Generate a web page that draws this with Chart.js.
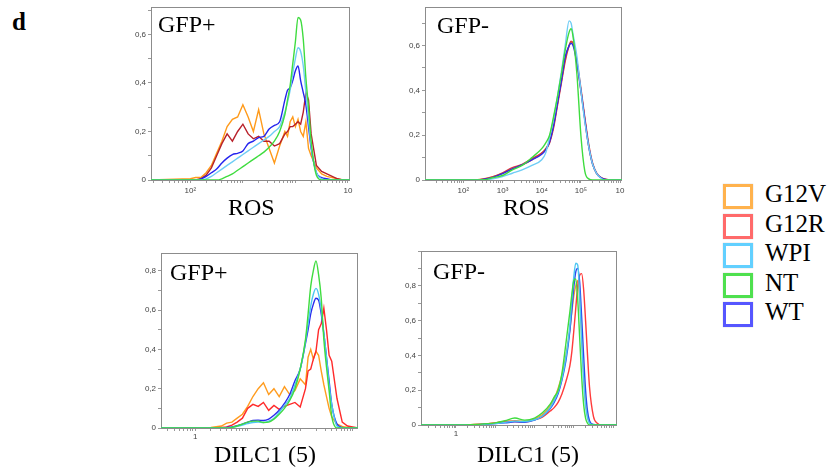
<!DOCTYPE html>
<html>
<head>
<meta charset="utf-8">
<script src="https://cdn.jsdelivr.net/npm/chart.js@4.4.1/dist/chart.umd.min.js"></script>
<style>
  body { margin: 0; width: 832px; height: 468px; background: #fff; position: relative; overflow: hidden;
         font-family: "Liberation Serif", "Times New Roman", serif; }
  canvas { position: absolute; }
  .lbl { position: absolute; font-size: 24px; line-height: 1; color: #000; white-space: nowrap; }
  .key { position: absolute; width: 24px; height: 19px; border: 3px solid; background: #fff;
         box-shadow: 0 0 1px rgba(0,0,0,0.25); }
  .keytext { position: absolute; font-size: 25px; line-height: 1; color: #000; }
</style>
</head>
<body>
<div class="lbl" style="left:12px;top:9px;font-size:25px;font-weight:bold">d</div>

<canvas id="rosPos" width="260" height="200" style="left:100px;top:0px"></canvas>
<canvas id="rosNeg" width="262" height="200" style="left:370px;top:0px"></canvas>
<canvas id="dilPos" width="270" height="205" style="left:100px;top:240px"></canvas>
<canvas id="dilNeg" width="260" height="205" style="left:370px;top:240px"></canvas>

<div class="lbl" style="left:158px;top:12px">GFP+</div>
<div class="lbl" style="left:437px;top:13px">GFP-</div>
<div class="lbl" style="left:170px;top:260px">GFP+</div>
<div class="lbl" style="left:433px;top:259px">GFP-</div>
<div class="lbl" style="left:228px;top:195px">ROS</div>
<div class="lbl" style="left:503px;top:195px">ROS</div>
<div class="lbl" style="left:214px;top:442px">DILC1 (5)</div>
<div class="lbl" style="left:477px;top:442px">DILC1 (5)</div>

<div id="legend"></div>

<script>
// series names and colours
const names = ["G12V", "G12R", "WPI", "NT", "WT"];
const keyColors = ["#ffb24d", "#ff6a6a", "#62d0ff", "#4fe04f", "#5656ff"];

// ROS, GFP+ (x in log10 units)
const rosPosX = [1.25, 2.0, 2.1, 2.2, 2.3, 2.4, 2.5, 2.6, 2.7, 2.8, 2.9, 3.0, 3.1, 3.2, 3.3, 3.4, 3.5, 3.6, 3.7, 3.8,
  3.85, 3.9, 3.95, 4.0, 4.05, 4.1, 4.15, 4.2, 4.25, 4.3, 4.4, 4.5, 4.6, 4.7, 4.8, 4.9, 5.04];
const rosPosG12V = [0, 0.005, 0.01, 0.01, 0.03, 0.06, 0.11, 0.16, 0.22, 0.25, 0.26, 0.31, 0.26, 0.2, 0.29, 0.19, 0.13, 0.07, 0.14, 0.2,
  0.18, 0.24, 0.26, 0.22, 0.25, 0.2, 0.18, 0.24, 0.13, 0.1, 0.05, 0.025, 0.015, 0.01, 0.005, 0, 0];
const rosPosG12R = [0, 0, 0, 0.005, 0.02, 0.05, 0.1, 0.15, 0.19, 0.16, 0.2, 0.23, 0.19, 0.17, 0.18, 0.16, 0.16, 0.14, 0.15, 0.19,
  0.2, 0.22, 0.22, 0.23, 0.24, 0.23, 0.28, 0.36, 0.33, 0.19, 0.06, 0.035, 0.025, 0.015, 0.005, 0, 0];
const rosPosWPI = [0, 0, 0, 0, 0.005, 0.015, 0.03, 0.045, 0.06, 0.075, 0.09, 0.105, 0.12, 0.135, 0.15, 0.165, 0.18, 0.2, 0.22, 0.28,
  0.32, 0.37, 0.44, 0.5, 0.545, 0.53, 0.47, 0.36, 0.25, 0.14, 0.03, 0.005, 0, 0, 0, 0, 0];
const rosPosNT = [0, 0, 0, 0, 0, 0, 0, 0.005, 0.015, 0.025, 0.04, 0.055, 0.07, 0.085, 0.1, 0.115, 0.135, 0.16, 0.2, 0.27,
  0.33, 0.39, 0.48, 0.57, 0.67, 0.66, 0.58, 0.42, 0.3, 0.16, 0.02, 0, 0, 0, 0, 0, 0];
const rosPosWT = [0, 0, 0, 0.005, 0.015, 0.03, 0.045, 0.07, 0.09, 0.105, 0.11, 0.12, 0.15, 0.16, 0.175, 0.18, 0.21, 0.225, 0.24, 0.33,
  0.37, 0.38, 0.41, 0.45, 0.47, 0.41, 0.36, 0.31, 0.22, 0.13, 0.03, 0.01, 0.005, 0, 0, 0, 0];

// ROS, GFP-
const rosNegX = [1.02, 2.3, 2.5, 2.75, 3.0, 3.25, 3.5, 3.75, 4.0, 4.1, 4.2, 4.3, 4.4, 4.5, 4.6, 4.7, 4.75, 4.8, 4.9, 5.0,
  5.1, 5.2, 5.3, 5.4, 5.5, 5.6, 5.8, 6.05];
const rosNegG12V = [0, 0, 0.005, 0.015, 0.03, 0.05, 0.067, 0.09, 0.12, 0.14, 0.17, 0.24, 0.34, 0.44, 0.54, 0.6, 0.615, 0.615, 0.52, 0.4,
  0.27, 0.15, 0.07, 0.03, 0.012, 0.004, 0, 0];
const rosNegG12R = [0, 0, 0.004, 0.014, 0.032, 0.055, 0.07, 0.095, 0.12, 0.135, 0.165, 0.23, 0.33, 0.43, 0.53, 0.6, 0.62, 0.61, 0.53, 0.41,
  0.28, 0.16, 0.075, 0.032, 0.013, 0.005, 0, 0];
const rosNegWPI = [0, 0, 0, 0.005, 0.015, 0.03, 0.045, 0.065, 0.09, 0.12, 0.19, 0.27, 0.37, 0.48, 0.6, 0.71, 0.7, 0.65, 0.55, 0.4,
  0.26, 0.15, 0.07, 0.03, 0.01, 0, 0, 0];
const rosNegNT = [0, 0, 0, 0.01, 0.02, 0.045, 0.065, 0.1, 0.14, 0.165, 0.2, 0.28, 0.37, 0.47, 0.58, 0.66, 0.675, 0.64, 0.47, 0.2,
  0.04, 0.005, 0, 0, 0, 0, 0, 0];
const rosNegWT = [0, 0, 0.003, 0.012, 0.028, 0.05, 0.068, 0.09, 0.115, 0.135, 0.17, 0.24, 0.34, 0.44, 0.55, 0.6, 0.61, 0.6, 0.52, 0.4,
  0.27, 0.15, 0.07, 0.03, 0.012, 0.004, 0, 0];

// DILC1 (5), GFP+
const dilPosX = [-0.65, 0.3, 0.5, 0.6, 0.7, 0.8, 0.9, 1.0, 1.1, 1.2, 1.3, 1.4, 1.5, 1.6, 1.7, 1.8, 1.9, 2.0, 2.1,
  2.15, 2.2, 2.25, 2.3, 2.35, 2.4, 2.45, 2.5, 2.55, 2.6, 2.7, 2.8, 2.9, 3.1];
const dilPosG12V = [0, 0.003, 0.01, 0.025, 0.03, 0.05, 0.07, 0.11, 0.16, 0.2, 0.23, 0.17, 0.2, 0.16, 0.21, 0.17, 0.19, 0.25, 0.22,
  0.36, 0.4, 0.35, 0.39, 0.37, 0.29, 0.22, 0.16, 0.1, 0.056, 0.02, 0.008, 0.003, 0];
const dilPosG12R = [0, 0, 0.003, 0.005, 0.015, 0.03, 0.05, 0.1, 0.12, 0.11, 0.13, 0.09, 0.115, 0.095, 0.11, 0.12, 0.13, 0.107, 0.2,
  0.29, 0.3, 0.35, 0.39, 0.5, 0.53, 0.61, 0.5, 0.37, 0.34, 0.15, 0.03, 0.01, 0];
const dilPosWPI = [0, 0, 0, 0, 0.003, 0.008, 0.015, 0.022, 0.028, 0.03, 0.028, 0.035, 0.05, 0.08, 0.115, 0.15, 0.22, 0.3, 0.44,
  0.53, 0.62, 0.68, 0.71, 0.68, 0.6, 0.48, 0.36, 0.22, 0.12, 0.01, 0, 0, 0];
const dilPosNT = [0, 0, 0, 0, 0.003, 0.01, 0.02, 0.03, 0.035, 0.035, 0.028, 0.03, 0.045, 0.07, 0.1, 0.14, 0.2, 0.3, 0.45,
  0.58, 0.72, 0.8, 0.85, 0.78, 0.66, 0.45, 0.31, 0.19, 0.06, 0, 0, 0, 0];
const dilPosWT = [0, 0, 0, 0.003, 0.006, 0.012, 0.02, 0.03, 0.038, 0.04, 0.038, 0.045, 0.065, 0.09, 0.125, 0.17, 0.24, 0.3, 0.43,
  0.5, 0.58, 0.63, 0.66, 0.65, 0.58, 0.48, 0.36, 0.24, 0.12, 0.02, 0.003, 0, 0];

// DILC1 (5), GFP-
const dilNegX = [-0.89, 0, 0.5, 1.0, 1.25, 1.5, 1.75, 2.0, 2.2, 2.4, 2.5, 2.6, 2.7, 2.8, 2.9, 2.95, 3.0, 3.05, 3.1, 3.15,
  3.2, 3.25, 3.3, 3.35, 3.4, 3.5, 3.6, 3.7, 3.8, 4.1];
const dilNegG12V = [0, 0, 0.003, 0.012, 0.02, 0.025, 0.022, 0.035, 0.06, 0.11, 0.15, 0.21, 0.29, 0.4, 0.55, 0.65, 0.74, 0.8, 0.83, 0.72,
  0.52, 0.3, 0.14, 0.05, 0.015, 0, 0, 0, 0, 0];
const dilNegG12R = [0, 0, 0.003, 0.012, 0.02, 0.02, 0.018, 0.03, 0.045, 0.08, 0.1, 0.13, 0.18, 0.25, 0.34, 0.42, 0.54, 0.67, 0.8, 0.86,
  0.87, 0.78, 0.6, 0.4, 0.22, 0.05, 0.01, 0, 0, 0];
const dilNegWPI = [0, 0, 0.002, 0.008, 0.015, 0.022, 0.02, 0.03, 0.05, 0.1, 0.14, 0.19, 0.27, 0.39, 0.57, 0.72, 0.85, 0.93, 0.92, 0.74,
  0.48, 0.26, 0.11, 0.04, 0.01, 0, 0, 0, 0, 0];
const dilNegNT = [0, 0, 0.003, 0.012, 0.025, 0.04, 0.028, 0.04, 0.07, 0.12, 0.16, 0.2, 0.3, 0.47, 0.65, 0.75, 0.83, 0.84, 0.72, 0.5,
  0.28, 0.12, 0.04, 0.01, 0, 0, 0, 0, 0, 0];
const dilNegWT = [0, 0, 0.002, 0.008, 0.012, 0.018, 0.016, 0.028, 0.05, 0.095, 0.13, 0.18, 0.26, 0.37, 0.54, 0.66, 0.79, 0.88, 0.9, 0.82,
  0.62, 0.4, 0.2, 0.08, 0.025, 0.003, 0, 0, 0, 0];

// decade tick labels
const rosPosTicks = { 2: "10²", 5: "10" };
const rosNegTicks = { 2: "10²", 3: "10³", 4: "10⁴", 5: "10⁵", 6: "10" };
const dilPosTicks = { 0: "1" };
const dilNegTicks = { 0: "1" };

// legend
const legend = document.getElementById("legend");
names.forEach(function (n, i) {
  const top = 184 + i * 29.5;
  legend.innerHTML += '<div class="key" style="left:723px;top:' + top + 'px;border-color:' + keyColors[i] + '"></div>' +
    '<div class="keytext" style="left:765px;top:' + (top - 3) + 'px">' + n + '</div>';
});

const framePlugin = {
  id: "frame",
  beforeDatasetsDraw(chart) {
    const a = chart.chartArea;
    const ctx = chart.ctx;
    ctx.save();
    ctx.strokeStyle = "#8c8c8c";
    ctx.lineWidth = 1;
    ctx.strokeRect(Math.round(a.left) + 0.5, Math.round(a.top) + 0.5, Math.round(a.right - a.left) - 1, Math.round(a.bottom - a.top));
    ctx.restore();
  }
};

function logTicks(min, max) {
  const out = [];
  for (let n = Math.floor(min); n <= Math.ceil(max); n++) {
    for (let k = 1; k <= 9; k++) {
      const v = n + Math.log10(k);
      if (v >= min && v <= max) out.push({ value: v });
    }
  }
  return out;
}

function makeChart(id, xs, vals, colors, cfg) {
  const order = [3, 2, 4, 1, 0]; // NT, WPI, WT, G12R, G12V drawn in this order
  const datasets = order.map(function (i) {
    const rough = cfg.noisy.indexOf(i) >= 0;
    return {
      label: names[i],
      data: xs.map(function (x, j) { return { x: x, y: vals[i][j] }; }),
      borderColor: colors[i],
      borderWidth: 1.4,
      pointRadius: 0,
      fill: false,
      tension: rough ? 0 : 0.35,
      cubicInterpolationMode: rough ? "default" : "monotone"
    };
  });

  new Chart(id, {
    type: "line",
    data: { datasets: datasets },
    plugins: [framePlugin],
    options: {
      responsive: false,
      animation: false,
      layout: { padding: { top: cfg.padTop, right: cfg.padRight, left: 0, bottom: 0 } },
      plugins: { legend: { display: false }, tooltip: { enabled: false } },
      scales: {
        x: {
          type: "linear",
          min: xs[0],
          max: xs[xs.length - 1],
          border: { display: false },
          grid: { drawOnChartArea: false, tickLength: 3, color: "#999" },
          afterBuildTicks: function (s) { s.ticks = logTicks(s.min, s.max); },
          afterFit: function (s) { s.height = cfg.xAxisH; },
          ticks: {
            autoSkip: false,
            maxRotation: 0,
            padding: cfg.xPad,
            color: "#444",
            font: { family: "Liberation Sans, Arial", size: 8 },
            callback: function (v) {
              for (const k in cfg.xLabels) {
                if (Math.abs(Number(k) - v) < 1e-6) return cfg.xLabels[k];
              }
              return "";
            }
          }
        },
        y: {
          min: 0,
          max: cfg.yMax,
          border: { display: false },
          grid: { drawOnChartArea: false, tickLength: 3, color: "#999" },
          afterBuildTicks: function (s) {
            const t = [];
            for (let i = 0; i * 0.1 <= s.max + 1e-9; i++) t.push({ value: i / 10 });
            s.ticks = t;
          },
          afterFit: function (s) { s.width = cfg.yAxisW; },
          ticks: {
            padding: 2,
            color: "#444",
            font: { family: "Liberation Sans, Arial", size: 8 },
            callback: function (v) {
              const tenths = Math.round(v * 10);
              if (tenths % 2 !== 0 || tenths >= 10) return "";
              return tenths === 0 ? "0" : "0," + tenths;
            }
          }
        }
      }
    }
  });
}

makeChart("rosPos", rosPosX, [rosPosG12V, rosPosG12R, rosPosWPI, rosPosNT, rosPosWT],
  ["#ff9a1a", "#b8202a", "#6fcdf5", "#3fdc3f", "#2424ee"],
  { yMax: 0.714, padTop: 5, padRight: 10, yAxisW: 51, xAxisH: 20, xPad: 3, xLabels: rosPosTicks, noisy: [0, 1] });

makeChart("rosNeg", rosNegX, [rosNegG12V, rosNegG12R, rosNegWPI, rosNegNT, rosNegWT],
  ["#f07a22", "#d8383a", "#6fcdf5", "#3fdc3f", "#2c2ce8"],
  { yMax: 0.773, padTop: 6, padRight: 10, yAxisW: 55, xAxisH: 20, xPad: 3, xLabels: rosNegTicks, noisy: [] });

makeChart("dilPos", dilPosX, [dilPosG12V, dilPosG12R, dilPosWPI, dilPosNT, dilPosWT],
  ["#ff9c1f", "#ff2a2a", "#4cc6f2", "#3fdc3f", "#2a2aee"],
  { yMax: 0.89, padTop: 13, padRight: 12, yAxisW: 61, xAxisH: 17, xPad: 1, xLabels: dilPosTicks, noisy: [0, 1] });

makeChart("dilNeg", dilNegX, [dilNegG12V, dilNegG12R, dilNegWPI, dilNegNT, dilNegWT],
  ["#f2a431", "#ff3b3b", "#4cc6f2", "#3fdc3f", "#2a4af0"],
  { yMax: 1.0, padTop: 11, padRight: 13, yAxisW: 51, xAxisH: 20, xPad: 1, xLabels: dilNegTicks, noisy: [] });
</script>
</body>
</html>
